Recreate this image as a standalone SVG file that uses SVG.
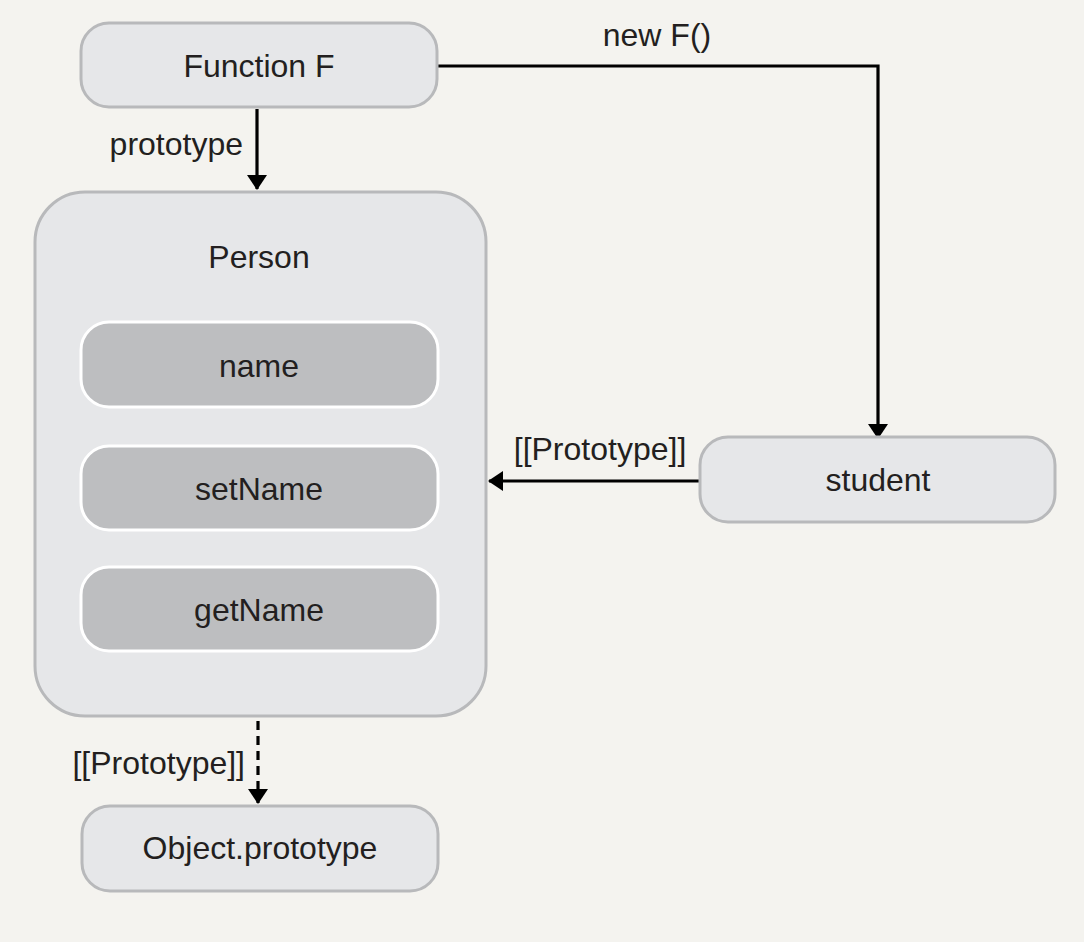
<svg xmlns="http://www.w3.org/2000/svg" width="1084" height="942" viewBox="0 0 1084 942">
<defs>
<style>
.box{fill:#e6e7e9;stroke:#b8b9bb;stroke-width:3}
.inner{fill:#bdbec0;stroke:#ffffff;stroke-width:3}
.t{font-family:"Liberation Sans",Arial,sans-serif;font-size:32px;fill:#231f20;text-anchor:middle}
.lbl{font-family:"Liberation Sans",Arial,sans-serif;font-size:32px;fill:#231f20}
.edge{fill:none;stroke:#000;stroke-width:3.2}
.dash{stroke-dasharray:9 6}
</style>
<marker id="arr" viewBox="0 0 15 20" refX="14" refY="10" markerWidth="15" markerHeight="20" orient="auto" markerUnits="userSpaceOnUse">
<path d="M0,0 L15,10 L0,20 Z" fill="#000"/>
</marker>
</defs>
<rect width="1084" height="942" fill="#f4f3ef"/>
<g id="connectors">
<path class="edge" d="M257,109 V189" marker-end="url(#arr)"/>
<path class="edge" d="M437,66 H878 V438" marker-end="url(#arr)"/>
<path class="edge" d="M700,481 H489" marker-end="url(#arr)"/>
<path class="edge dash" d="M258,721 V803" marker-end="url(#arr)"/>
<text class="lbl" x="243" y="155" text-anchor="end">prototype</text>
<text class="lbl" x="657" y="46" text-anchor="middle">new F()</text>
<text class="lbl" x="600" y="460" text-anchor="middle">[[Prototype]]</text>
<text class="lbl" x="245" y="774" text-anchor="end">[[Prototype]]</text>
</g>
<g id="functionF">
<rect class="box" x="81" y="23" width="356" height="84" rx="28"/>
<text class="t" x="259" y="77">Function F</text>
</g>
<g id="person">
<rect class="box" x="35" y="192" width="451" height="524" rx="50"/>
<text class="t" x="259" y="268">Person</text>
<g id="name">
<rect class="inner" x="81" y="322" width="357" height="85" rx="28"/>
<text class="t" x="259" y="377">name</text>
</g>
<g id="setName">
<rect class="inner" x="81" y="446" width="357" height="84" rx="28"/>
<text class="t" x="259" y="500">setName</text>
</g>
<g id="getName">
<rect class="inner" x="81" y="567" width="357" height="84" rx="28"/>
<text class="t" x="259" y="621">getName</text>
</g>
</g>
<g id="student">
<rect class="box" x="700" y="437" width="355" height="85" rx="28"/>
<text class="t" x="878" y="491">student</text>
</g>
<g id="objectPrototype">
<rect class="box" x="82" y="806" width="356" height="85" rx="28"/>
<text class="t" x="260" y="859">Object.prototype</text>
</g>
</svg>
